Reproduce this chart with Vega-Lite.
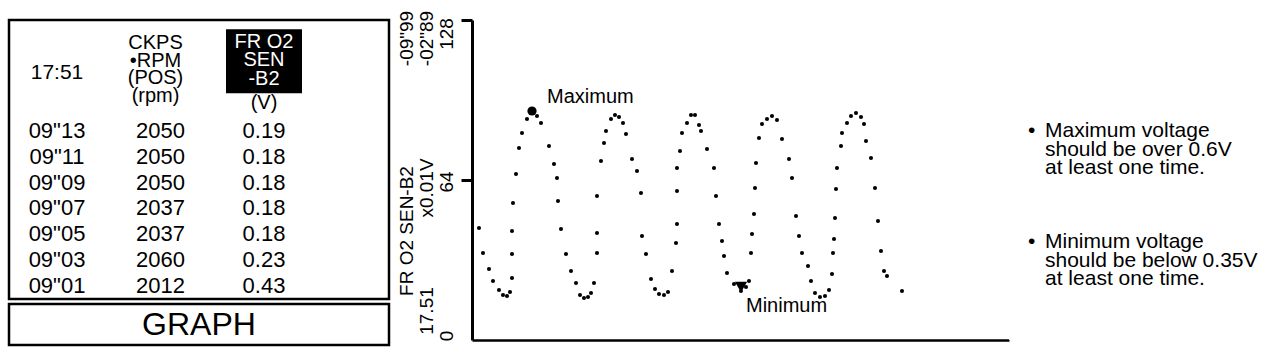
{
  "$schema": "https://vega.github.io/schema/vega-lite/v6.json",
  "background": "white",
  "padding": {"left": 7, "top": 10, "right": 2, "bottom": 2},
  "spacing": 0,
  "config": {
    "view": {"stroke": null},
    "font": "Liberation Sans",
    "text": {"font": "Liberation Sans", "color": "black"}
  },
  "datasets": {
    "cells": [
      {"row": 1, "col": 0, "text": "09\"13"}, {"row": 1, "col": 1, "text": "2050"}, {"row": 1, "col": 2, "text": "0.19"},
      {"row": 2, "col": 0, "text": "09\"11"}, {"row": 2, "col": 1, "text": "2050"}, {"row": 2, "col": 2, "text": "0.18"},
      {"row": 3, "col": 0, "text": "09\"09"}, {"row": 3, "col": 1, "text": "2050"}, {"row": 3, "col": 2, "text": "0.18"},
      {"row": 4, "col": 0, "text": "09\"07"}, {"row": 4, "col": 1, "text": "2037"}, {"row": 4, "col": 2, "text": "0.18"},
      {"row": 5, "col": 0, "text": "09\"05"}, {"row": 5, "col": 1, "text": "2037"}, {"row": 5, "col": 2, "text": "0.18"},
      {"row": 6, "col": 0, "text": "09\"03"}, {"row": 6, "col": 1, "text": "2060"}, {"row": 6, "col": 2, "text": "0.23"},
      {"row": 7, "col": 0, "text": "09\"01"}, {"row": 7, "col": 1, "text": "2012"}, {"row": 7, "col": 2, "text": "0.43"}
    ],
    "headTime": [{"row": 0, "col": 0, "text": "17:51"}],
    "headRpm": [{"row": 0, "col": 1, "text": "CKPS\n•RPM\n(POS)\n(rpm)"}],
    "headInv": [{"row": 0, "col": 2, "text": "FR O2\nSEN\n-B2"}],
    "headUnit": [{"row": 0, "col": 2, "text": "(V)"}],
    "graphBtn": [{"label": "GRAPH"}],
    "sideLabels": [
      {"col": 1, "v": 120.6, "text": "-09\"99"},
      {"col": 2, "v": 120.6, "text": "-02\"89"},
      {"col": 3, "v": 122.4, "text": "128"},
      {"col": 2, "v": 60.8, "text": "x0.01V"},
      {"col": 3, "v": 63.2, "text": "64"},
      {"col": 1, "v": 43.6, "text": "FR O2 SEN-B2"},
      {"col": 2, "v": 11.6, "text": "17.51"},
      {"col": 3, "v": 1.6, "text": "0"}
    ],
    "wave": [
      {"t": 7, "v": 44.8}, {"t": 11, "v": 34.8}, {"t": 17, "v": 28.4}, {"t": 21, "v": 23.6},
      {"t": 27, "v": 20.0}, {"t": 31, "v": 18.0}, {"t": 35, "v": 17.6}, {"t": 38, "v": 19.2},
      {"t": 40, "v": 24.8}, {"t": 40, "v": 34.4}, {"t": 40, "v": 43.6}, {"t": 41, "v": 54.8},
      {"t": 44, "v": 66.4}, {"t": 47, "v": 76.8}, {"t": 50, "v": 82.8}, {"t": 55, "v": 88.4},
      {"t": 60, "v": 91.6}, {"t": 65, "v": 89.6}, {"t": 69, "v": 86.8}, {"t": 77, "v": 77.6},
      {"t": 82, "v": 70.4}, {"t": 85, "v": 64.8}, {"t": 86, "v": 55.6}, {"t": 89, "v": 44.4},
      {"t": 94, "v": 34.4}, {"t": 99, "v": 27.6}, {"t": 104, "v": 22.8}, {"t": 108, "v": 18.0},
      {"t": 112, "v": 16.8}, {"t": 116, "v": 17.2}, {"t": 119, "v": 18.8}, {"t": 122, "v": 22.8},
      {"t": 125, "v": 34.8}, {"t": 125, "v": 42.8}, {"t": 125, "v": 57.6}, {"t": 129, "v": 71.6},
      {"t": 132, "v": 78.8}, {"t": 134, "v": 83.6}, {"t": 139, "v": 88.4}, {"t": 143, "v": 90.0},
      {"t": 147, "v": 89.2}, {"t": 151, "v": 86.8}, {"t": 154, "v": 82.4}, {"t": 160, "v": 72.4},
      {"t": 165, "v": 67.6}, {"t": 169, "v": 58.8}, {"t": 170, "v": 41.6}, {"t": 174, "v": 34.4},
      {"t": 179, "v": 24.4}, {"t": 183, "v": 20.4}, {"t": 187, "v": 18.4}, {"t": 192, "v": 18.0},
      {"t": 196, "v": 19.2}, {"t": 200, "v": 27.6}, {"t": 204, "v": 38.8}, {"t": 205, "v": 46.4},
      {"t": 205, "v": 59.6}, {"t": 205, "v": 68.8}, {"t": 208, "v": 75.6}, {"t": 210, "v": 82.8},
      {"t": 215, "v": 86.8}, {"t": 219, "v": 90.0}, {"t": 223, "v": 90.0}, {"t": 227, "v": 86.0},
      {"t": 229, "v": 83.6}, {"t": 235, "v": 76.4}, {"t": 242, "v": 68.8}, {"t": 244, "v": 57.6},
      {"t": 247, "v": 46.4}, {"t": 250, "v": 39.6}, {"t": 252, "v": 33.6}, {"t": 255, "v": 26.8},
      {"t": 262, "v": 22.4}, {"t": 269, "v": 19.6}, {"t": 274, "v": 21.2}, {"t": 277, "v": 23.6},
      {"t": 279, "v": 34.8}, {"t": 280, "v": 42.4}, {"t": 282, "v": 50.4}, {"t": 283, "v": 60.8},
      {"t": 284, "v": 70.8}, {"t": 287, "v": 80.8}, {"t": 290, "v": 86.4}, {"t": 295, "v": 88.4},
      {"t": 300, "v": 89.6}, {"t": 305, "v": 88.0}, {"t": 310, "v": 80.4}, {"t": 317, "v": 72.4},
      {"t": 320, "v": 64.8}, {"t": 324, "v": 49.6}, {"t": 327, "v": 41.6}, {"t": 330, "v": 34.8},
      {"t": 336, "v": 29.6}, {"t": 339, "v": 23.6}, {"t": 343, "v": 18.8}, {"t": 348, "v": 17.2},
      {"t": 353, "v": 17.6}, {"t": 357, "v": 20.0}, {"t": 360, "v": 26.4}, {"t": 361, "v": 34.8},
      {"t": 362, "v": 40.4}, {"t": 363, "v": 48.8}, {"t": 364, "v": 60.4}, {"t": 365, "v": 68.8},
      {"t": 369, "v": 77.6}, {"t": 370, "v": 82.8}, {"t": 375, "v": 86.8}, {"t": 379, "v": 89.6},
      {"t": 384, "v": 90.8}, {"t": 389, "v": 89.2}, {"t": 392, "v": 86.4}, {"t": 394, "v": 79.6},
      {"t": 399, "v": 72.8}, {"t": 403, "v": 60.8}, {"t": 406, "v": 47.6}, {"t": 409, "v": 35.6},
      {"t": 412, "v": 27.6}, {"t": 415, "v": 25.6}, {"t": 430, "v": 19.6}
    ],
    "maxPt": [{"t": 60, "v": 91.6, "label": "Maximum"}],
    "minPt": [{"t": 269, "v": 19.6, "label": "Minimum"}],
    "notes": [
      {"col": 0, "line": 1, "text": "•"},
      {"col": 1, "line": 1, "text": "Maximum voltage"},
      {"col": 1, "line": 2, "text": "should be over 0.6V"},
      {"col": 1, "line": 3, "text": "at least one time."},
      {"col": 0, "line": 7, "text": "•"},
      {"col": 1, "line": 7, "text": "Minimum voltage"},
      {"col": 1, "line": 8, "text": "should be below 0.35V"},
      {"col": 1, "line": 9, "text": "at least one time."}
    ]
  },
  "hconcat": [
    {
      "vconcat": [
        {
          "width": 380,
          "height": 279,
          "view": {"stroke": "black", "strokeWidth": 2.5, "fill": "white"},
          "encoding": {
            "x": {"field": "col", "type": "quantitative", "scale": {"domain": [-0.4638, 3.2077], "nice": false, "zero": false}, "axis": null},
            "y": {"field": "row", "type": "quantitative", "scale": {"domain": [-3.297, 7.504], "reverse": true, "nice": false, "zero": false}, "axis": null}
          },
          "layer": [
            {
              "data": {"name": "headInv"},
              "mark": {"type": "point", "shape": "M-1,-0.842H1V0.842H-1Z", "size": 5776, "filled": true, "color": "black", "opacity": 1, "strokeWidth": 0, "yOffset": -44}
            },
            {
              "data": {"name": "headInv"},
              "mark": {"type": "text", "color": "white", "fontSize": 20, "lineHeight": 18.5, "lineBreak": "\n", "baseline": "middle", "align": "center", "dy": -63.5},
              "encoding": {"text": {"field": "text"}}
            },
            {
              "data": {"name": "headUnit"},
              "mark": {"type": "text", "fontSize": 20, "baseline": "middle", "align": "center", "dy": -2},
              "encoding": {"text": {"field": "text"}}
            },
            {
              "data": {"name": "headRpm"},
              "mark": {"type": "text", "fontSize": 20, "lineHeight": 17.6, "lineBreak": "\n", "baseline": "middle", "align": "center", "dy": -62, "dx": -5},
              "encoding": {"text": {"field": "text"}}
            },
            {
              "data": {"name": "headTime"},
              "mark": {"type": "text", "fontSize": 21, "baseline": "middle", "align": "center", "dy": -32},
              "encoding": {"text": {"field": "text"}}
            },
            {
              "data": {"name": "cells"},
              "mark": {"type": "text", "fontSize": 22, "baseline": "middle", "align": "center"},
              "encoding": {"text": {"field": "text"}}
            }
          ]
        },
        {
          "width": 380,
          "height": 41,
          "view": {"stroke": "black", "strokeWidth": 2.5, "fill": "white"},
          "data": {"name": "graphBtn"},
          "mark": {"type": "text", "fontSize": 32, "baseline": "middle", "align": "center"},
          "encoding": {"text": {"field": "label"}}
        }
      ],
      "spacing": 1
    },
    {
      "width": 68,
      "height": 320,
      "view": {"stroke": null, "fill": "white"},
      "data": {"name": "sideLabels"},
      "mark": {"type": "text", "angle": 270, "fontSize": 19, "baseline": "middle", "align": "center"},
      "encoding": {
        "x": {"field": "col", "type": "quantitative", "scale": {"domain": [0.2, 3.6], "nice": false, "zero": false}, "axis": null},
        "y": {"field": "v", "type": "quantitative", "scale": {"domain": [0, 128], "nice": false, "zero": false}, "axis": null},
        "text": {"field": "text"}
      }
    },
    {
      "width": 537,
      "height": 320,
      "view": {"stroke": null, "fill": "white"},
      "encoding": {
        "x": {"field": "t", "type": "quantitative", "scale": {"domain": [0, 537], "nice": false, "zero": false},
          "axis": {"orient": "bottom", "ticks": false, "labels": false, "grid": false, "title": null, "domainColor": "black", "domainWidth": 2.5}},
        "y": {"field": "v", "type": "quantitative", "scale": {"domain": [0, 128], "nice": false, "zero": false},
          "axis": {"orient": "left", "values": [64, 128], "labels": false, "grid": false, "title": null, "domainColor": "black", "domainWidth": 3, "tickColor": "black", "tickWidth": 3, "tickSize": 11}}
      },
      "layer": [
        {
          "data": {"name": "wave"},
          "mark": {"type": "circle", "size": 17, "color": "black", "opacity": 1}
        },
        {
          "data": {"name": "maxPt"},
          "mark": {"type": "circle", "size": 85, "color": "black", "opacity": 1}
        },
        {
          "data": {"name": "maxPt"},
          "mark": {"type": "text", "fontSize": 20, "align": "left", "baseline": "middle", "dx": 15, "dy": -14},
          "encoding": {"text": {"field": "label"}}
        },
        {
          "data": {"name": "minPt"},
          "mark": {"type": "point", "shape": "triangle-down", "size": 150, "filled": true, "color": "black", "opacity": 1, "strokeWidth": 0, "yOffset": -4}
        },
        {
          "data": {"name": "minPt"},
          "mark": {"type": "text", "fontSize": 20, "align": "left", "baseline": "middle", "dx": 5, "dy": 15},
          "encoding": {"text": {"field": "label"}}
        }
      ]
    },
    {
      "width": 270,
      "height": 320,
      "view": {"stroke": null, "fill": "white"},
      "data": {"name": "notes"},
      "mark": {"type": "text", "fontSize": 21, "align": "left", "baseline": "middle"},
      "encoding": {
        "x": {"field": "col", "type": "quantitative", "scale": {"domain": [-1.118, 14.765], "nice": false, "zero": false}, "axis": null},
        "y": {"field": "line", "type": "quantitative", "scale": {"domain": [-5, 12.297], "reverse": true, "nice": false, "zero": false}, "axis": null},
        "text": {"field": "text"}
      }
    }
  ]
}
